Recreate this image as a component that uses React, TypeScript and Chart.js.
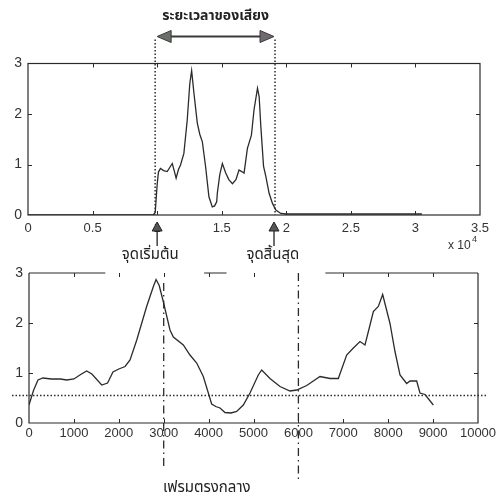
import React, { useEffect, useRef } from "react";
import { Chart, registerables } from "chart.js";
Chart.register(...registerables);

// ---- Data ----
// Top: whole utterance energy (x in units of 10^4 samples)
const topX = [0, 0.5, 0.97, 0.985, 1.0, 1.01, 1.026, 1.05, 1.078, 1.1, 1.117, 1.135, 1.147, 1.165, 1.181, 1.207, 1.233, 1.253, 1.267, 1.285, 1.311, 1.33, 1.35, 1.375, 1.401, 1.427, 1.445, 1.461, 1.466, 1.485, 1.505, 1.531, 1.555, 1.583, 1.61, 1.634, 1.655, 1.673, 1.699, 1.73, 1.75, 1.777, 1.79, 1.803, 1.824, 1.842, 1.867, 1.893, 1.919, 1.958, 2.0, 2.5, 3.05];
const topY = [0, 0, 0, 0.05, 0.6, 0.85, 0.92, 0.88, 0.86, 0.95, 1.02, 0.85, 0.73, 0.9, 0.99, 1.22, 1.88, 2.61, 2.86, 2.41, 1.82, 1.6, 1.45, 0.96, 0.36, 0.16, 0.18, 0.26, 0.43, 0.8, 1.02, 0.83, 0.7, 0.62, 0.7, 0.89, 0.86, 0.83, 1.32, 1.58, 2.08, 2.51, 2.34, 1.75, 0.96, 0.76, 0.43, 0.23, 0.1, 0.03, 0.02, 0.02, 0.02];
const topXTicks = ["0", "0.5", "1", "1.5", "2", "2.5", "3", "3.5"];
const yTickLabels = ["0", "1", "2", "3"];

// Bottom: voiced segment energy (x in samples)
const botX = [0, 100, 200, 310, 500, 700, 840, 1000, 1150, 1285, 1400, 1620, 1750, 1870, 2000, 2140, 2250, 2400, 2620, 2770, 2830, 2900, 2990, 3140, 3215, 3437, 3585, 3735, 3882, 3994, 4068, 4160, 4254, 4365, 4500, 4625, 4773, 4922, 5107, 5182, 5367, 5590, 5813, 5962, 6185, 6481, 6704, 6889, 7075, 7224, 7372, 7483, 7595, 7669, 7780, 7877, 8040, 8151, 8263, 8411, 8485, 8634, 8708, 8820, 9005];
const botY = [0.36, 0.65, 0.86, 0.9, 0.88, 0.88, 0.86, 0.88, 0.97, 1.04, 0.98, 0.76, 0.8, 1.02, 1.08, 1.13, 1.26, 1.66, 2.33, 2.73, 2.87, 2.75, 2.43, 1.86, 1.72, 1.56, 1.36, 1.2, 0.93, 0.6, 0.38, 0.33, 0.3, 0.21, 0.2, 0.23, 0.36, 0.6, 0.96, 1.06, 0.89, 0.73, 0.64, 0.66, 0.75, 0.93, 0.89, 0.89, 1.36, 1.5, 1.63, 1.56, 1.96, 2.23, 2.33, 2.57, 1.99, 1.43, 0.96, 0.79, 0.84, 0.84, 0.6, 0.57, 0.36];
const botXTicks = ["0", "1000", "2000", "3000", "4000", "5000", "6000", "7000", "8000", "9000", "10000"];

const segmentStart = 1.0; // x10^4
const segmentEnd = 1.905;
const thresholdLevel = 0.55;
const markerFrames = [3000, 6000];
const topBorderSpans = [[0, 1700], [3900, 4400], [6600, 10000]];

const titleText = "ระยะเวลาของเสียง";
const startText = "จุดเริ่มต้น";
const endText = "จุดสิ้นสุด";
const midText = "เฟรมตรงกลาง";

const INK = "#2b2b2b";
const TICK_FONT = "13px 'Liberation Sans', Arial, sans-serif";
const THAI_FONT = "'Noto Sans Thai', 'Loma', 'Garuda', 'Tlwg Typo', 'Norasi', sans-serif";

function innerTicks(chart: any) {
  const { ctx, chartArea: a } = chart;
  const xs = chart.scales.x;
  const ys = chart.scales.y;
  ctx.save();
  ctx.strokeStyle = INK;
  ctx.lineWidth = 1;
  ctx.setLineDash([]);
  ctx.beginPath();
  xs.ticks.forEach((t: any, i: number) => {
    if (i === 0 || i === xs.ticks.length - 1) return;
    const px = Math.round(xs.getPixelForValue(t.value)) + 0.5;
    ctx.moveTo(px, a.bottom);
    ctx.lineTo(px, a.bottom - 4);
    ctx.moveTo(px, a.top);
    ctx.lineTo(px, a.top + 4);
  });
  ys.ticks.forEach((t: any, i: number) => {
    if (i === 0 || i === ys.ticks.length - 1) return;
    const py = Math.round(ys.getPixelForValue(t.value)) + 0.5;
    ctx.moveTo(a.left, py);
    ctx.lineTo(a.left + 4, py);
    ctx.moveTo(a.right, py);
    ctx.lineTo(a.right - 4, py);
  });
  ctx.stroke();
  ctx.restore();
}

function tri(ctx: CanvasRenderingContext2D, pts: number[][]) {
  ctx.beginPath();
  ctx.moveTo(pts[0][0], pts[0][1]);
  ctx.lineTo(pts[1][0], pts[1][1]);
  ctx.lineTo(pts[2][0], pts[2][1]);
  ctx.closePath();
  ctx.fill();
  ctx.stroke();
}

const topPlugin = {
  id: "topDecor",
  afterDraw(chart: any) {
    const { ctx, chartArea: a } = chart;
    const xs = chart.scales.x;
    ctx.save();
    // frame
    ctx.strokeStyle = INK;
    ctx.lineWidth = 1.2;
    ctx.strokeRect(a.left, a.top, a.right - a.left, a.bottom - a.top);
    ctx.restore();
    innerTicks(chart);

    const x1 = xs.getPixelForValue(segmentStart);
    const x2 = xs.getPixelForValue(segmentEnd);
    ctx.save();
    // dotted verticals
    ctx.strokeStyle = INK;
    ctx.lineWidth = 1.5;
    ctx.setLineDash([1.5, 2]);
    [x1 - 2, x2 + 1].forEach((x) => {
      ctx.beginPath();
      ctx.moveTo(x, a.top - 24);
      ctx.lineTo(x, a.bottom);
      ctx.stroke();
    });
    ctx.setLineDash([]);
    // double arrow
    const ay = a.top - 27;
    ctx.lineWidth = 2;
    ctx.strokeStyle = "#3a3a3a";
    ctx.beginPath();
    ctx.moveTo(x1 + 12, ay);
    ctx.lineTo(x2 - 12, ay);
    ctx.stroke();
    ctx.fillStyle = "#6a6f6a";
    ctx.lineWidth = 1;
    tri(ctx, [[x1, ay], [x1 + 14, ay - 6], [x1 + 14, ay + 6]]);
    ctx.fillStyle = "#6f6a6f";
    tri(ctx, [[x2, ay], [x2 - 14, ay - 6], [x2 - 14, ay + 6]]);
    // title
    ctx.fillStyle = "#222";
    ctx.font = "bold 14px " + THAI_FONT;
    ctx.textAlign = "center";
    ctx.textBaseline = "middle";
    ctx.fillText(titleText, (x1 + x2) / 2, 17);
    // up arrows under axis
    ctx.fillStyle = "#555";
    ctx.strokeStyle = "#222";
    [x1, x2].forEach((x) => {
      const tip = a.bottom + 7;
      tri(ctx, [[x, tip], [x - 5, tip + 9], [x + 5, tip + 9]]);
      ctx.lineWidth = 1.3;
      ctx.beginPath();
      ctx.moveTo(x, tip + 9);
      ctx.lineTo(x, tip + 24);
      ctx.stroke();
      ctx.lineWidth = 1;
    });
    // x 10^4
    ctx.fillStyle = "#333";
    ctx.textAlign = "left";
    ctx.font = "12px 'Liberation Sans', Arial, sans-serif";
    ctx.fillText("x 10", a.right - 32, a.bottom + 31);
    ctx.font = "9px 'Liberation Sans', Arial, sans-serif";
    ctx.fillText("4", a.right - 8, a.bottom + 25);
    ctx.restore();
  },
};

const botPlugin = {
  id: "botDecor",
  afterDraw(chart: any) {
    const { ctx, chartArea: a } = chart;
    const xs = chart.scales.x;
    const ys = chart.scales.y;
    ctx.save();
    ctx.strokeStyle = INK;
    ctx.lineWidth = 1.2;
    ctx.beginPath();
    ctx.moveTo(a.left, a.top);
    ctx.lineTo(a.left, a.bottom);
    ctx.lineTo(a.right, a.bottom);
    ctx.lineTo(a.right, a.top);
    topBorderSpans.forEach(([s, e]) => {
      ctx.moveTo(xs.getPixelForValue(s), a.top);
      ctx.lineTo(xs.getPixelForValue(e), a.top);
    });
    ctx.stroke();
    ctx.restore();
    innerTicks(chart);

    ctx.save();
    // threshold dotted line
    const ty = ys.getPixelForValue(thresholdLevel);
    ctx.strokeStyle = INK;
    ctx.lineWidth = 1.5;
    ctx.setLineDash([1.5, 2]);
    ctx.beginPath();
    ctx.moveTo(a.left - 17, ty);
    ctx.lineTo(a.right + 9, ty);
    ctx.stroke();
    // dash-dot markers
    ctx.lineWidth = 1.3;
    ctx.setLineDash([8, 4, 1.5, 4]);
    const ends = [[a.top + 10, a.bottom + 45], [a.top, a.bottom + 60]];
    markerFrames.forEach((f, i) => {
      const px = xs.getPixelForValue(f);
      ctx.beginPath();
      ctx.moveTo(px, ends[i][0]);
      ctx.lineTo(px, ends[i][1]);
      ctx.stroke();
    });
    ctx.setLineDash([]);
    // labels
    ctx.fillStyle = "#222";
    ctx.font = "15px " + THAI_FONT;
    ctx.textAlign = "center";
    ctx.textBaseline = "middle";
    ctx.fillText(startText, xs.getPixelForValue(2700), a.top - 17);
    ctx.fillText(endText, xs.getPixelForValue(5430), a.top - 17);
    ctx.fillText(midText, xs.getPixelForValue(3960), a.bottom + 66);
    ctx.restore();
  },
};

function makeOptions(xMax: number, step: number, labels: string[], pad: any, yWidth: number, xPad: number) {
  return {
    animation: false,
    responsive: false,
    events: [],
    layout: { padding: pad },
    plugins: { legend: { display: false }, tooltip: { enabled: false } },
    scales: {
      x: {
        type: "linear",
        min: 0,
        max: xMax,
        grid: { display: false, drawTicks: false },
        border: { display: false },
        afterFit: (s: any) => { s.height = 30; },
        ticks: {
          stepSize: step,
          autoSkip: false,
          maxRotation: 0,
          padding: xPad,
          color: "#333",
          font: { family: "'Liberation Sans', Arial, sans-serif", size: 13 },
          callback: (_v: any, i: number) => labels[i],
        },
      },
      y: {
        min: 0,
        max: 3,
        grid: { display: false, drawTicks: false },
        border: { display: false },
        afterFit: (s: any) => { s.width = yWidth; },
        ticks: {
          stepSize: 1,
          padding: 6,
          color: "#333",
          font: { family: "'Liberation Sans', Arial, sans-serif", size: 14 },
          callback: (_v: any, i: number) => yTickLabels[i],
        },
      },
    },
  } as any;
}

export default function App() {
  const topRef = useRef<HTMLCanvasElement>(null);
  const botRef = useRef<HTMLCanvasElement>(null);
  useEffect(() => {
    const c1 = new Chart(topRef.current!, {
      type: "line",
      data: {
        datasets: [{
          data: topX.map((x, i) => ({ x, y: topY[i] })),
          borderColor: INK,
          borderWidth: 1.3,
          pointRadius: 0,
          tension: 0,
        }],
      },
      options: makeOptions(3.5, 0.5, topXTicks, { left: 0, top: 63.5, right: 20, bottom: 252 }, 28, 6),
      plugins: [topPlugin],
    });
    const c2 = new Chart(botRef.current!, {
      type: "line",
      data: {
        datasets: [{
          data: botX.map((x, i) => ({ x, y: botY[i] })),
          borderColor: INK,
          borderWidth: 1.3,
          pointRadius: 0,
          tension: 0,
        }],
      },
      options: makeOptions(10000, 1000, botXTicks, { left: 0, top: 273, right: 22, bottom: 44 }, 29, 3),
      plugins: [botPlugin],
    });
    return () => { c1.destroy(); c2.destroy(); };
  }, []);
  const cs: React.CSSProperties = { position: "absolute", left: 0, top: 0 };
  return (
    <div style={{ position: "absolute", left: 0, top: 0, width: 500, height: 497, background: "#fff" }}>
      <canvas ref={topRef} width={500} height={497} style={cs} />
      <canvas ref={botRef} width={500} height={497} style={cs} />
    </div>
  );
}
